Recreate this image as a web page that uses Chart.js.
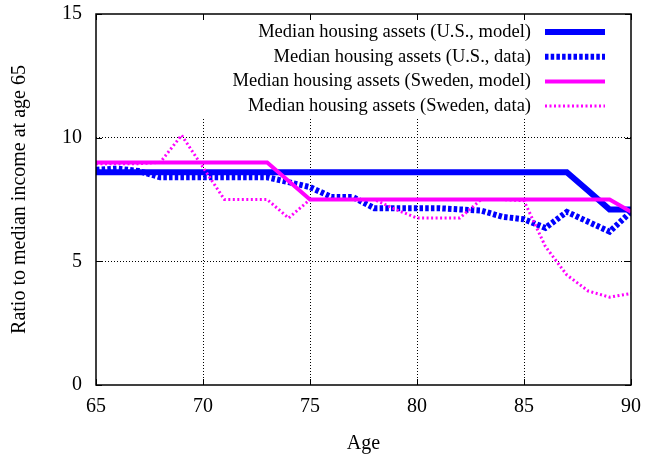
<!DOCTYPE html>
<html>
<head>
  <title>Median housing assets</title>
  <script src="https://cdn.jsdelivr.net/npm/chart.js@4"></script>
  <style>
    body { margin: 0; background: #fff; }
    #wrap { width: 646px; height: 457px; }
  </style>
</head>
<body>
<div id="wrap"><canvas id="chart" width="646" height="457"></canvas></div>
<script>
// data
const ages = [65,66,67,68,69,70,71,72,73,74,75,76,77,78,79,80,81,82,83,84,85,86,87,88,89,90];
const usModel = [8.6,8.6,8.6,8.6,8.6,8.6,8.6,8.6,8.6,8.6,8.6,8.6,8.6,8.6,8.6,8.6,8.6,8.6,8.6,8.6,8.6,8.6,8.6,7.85,7.1,7.1];
const usData = [8.7,8.75,8.65,8.4,8.4,8.4,8.4,8.4,8.4,8.2,8.0,7.6,7.6,7.15,7.15,7.15,7.15,7.1,7.05,6.8,6.7,6.35,7.0,6.6,6.2,7.0];
const swModel = [9.0,9.0,9.0,9.0,9.0,9.0,9.0,9.0,9.0,8.25,7.5,7.5,7.5,7.5,7.5,7.5,7.5,7.5,7.5,7.5,7.5,7.5,7.5,7.5,7.5,7.0];
const swData = [8.95,8.95,8.95,9.0,10.1,8.8,7.5,7.5,7.5,6.75,7.5,7.5,7.5,7.5,7.1,6.75,6.75,6.75,7.5,7.5,7.45,5.6,4.45,3.8,3.55,3.7];
const xTicks = [65,70,75,80,85,90];
const yTicks = [0,5,10,15];

const FONT = "'Liberation Serif', 'Times New Roman', serif";
const pts = arr => arr.map((v, i) => ({x: ages[i], y: v}));

const series = [
  { label: 'Median housing assets (U.S., model)', data: pts(usModel), borderColor: '#0000ff', borderWidth: 6, borderDash: [], order: 4 },
  { label: 'Median housing assets (U.S., data)', data: pts(usData), borderColor: '#0000ff', borderWidth: 6, borderDash: [3.5, 2.2], order: 3 },
  { label: 'Median housing assets (Sweden, model)', data: pts(swModel), borderColor: '#ff00ff', borderWidth: 4, borderDash: [], order: 2 },
  { label: 'Median housing assets (Sweden, data)', data: pts(swData), borderColor: '#ff00ff', borderWidth: 3, borderDash: [2, 2.5], order: 1 }
];

// gnuplot style: blank key area, frame with inward ticks, key in the upper right
const frame = {
  id: 'frame',
  beforeDatasetsDraw(chart) {
    const {ctx, chartArea: a} = chart;
    ctx.save();
    ctx.fillStyle = '#fff';
    ctx.fillRect(a.left + 1, a.top + 1, a.right - a.left - 2, 117 - a.top);
    ctx.restore();
  },
  afterDatasetsDraw(chart) {
    const {ctx, chartArea: a, scales} = chart;
    ctx.save();
    ctx.strokeStyle = '#000';
    ctx.lineWidth = 1;
    ctx.beginPath();
    xTicks.forEach(t => {
      const x = Math.round(scales.x.getPixelForValue(t)) + 0.5;
      ctx.moveTo(x, a.bottom); ctx.lineTo(x, a.bottom - 6);
      ctx.moveTo(x, a.top); ctx.lineTo(x, a.top + 6);
    });
    yTicks.forEach(t => {
      const y = Math.round(scales.y.getPixelForValue(t)) + 0.5;
      ctx.moveTo(a.left, y); ctx.lineTo(a.left + 6, y);
      ctx.moveTo(a.right, y); ctx.lineTo(a.right - 6, y);
    });
    ctx.stroke();
    ctx.lineWidth = 1.5;
    ctx.strokeRect(a.left, a.top, a.right - a.left, a.bottom - a.top);

    // key
    ctx.font = '18.5px ' + FONT;
    ctx.fillStyle = '#000';
    ctx.textAlign = 'right';
    ctx.textBaseline = 'middle';
    series.forEach((s, i) => {
      const y = 32 + i * 24.7;
      ctx.fillText(s.label, 531, y);
      ctx.beginPath();
      ctx.strokeStyle = s.borderColor;
      ctx.lineWidth = s.borderWidth;
      ctx.setLineDash(s.borderDash);
      ctx.moveTo(545, y); ctx.lineTo(605, y);
      ctx.stroke();
    });
    ctx.restore();
  }
};

new Chart(document.getElementById('chart').getContext('2d'), {
  type: 'line',
  data: {
    datasets: series.map(s => Object.assign({}, s, {
      fill: false, pointRadius: 0, tension: 0, borderCapStyle: 'butt'
    }))
  },
  options: {
    responsive: false,
    animation: false,
    layout: { padding: { left: 0, right: 15, top: 14, bottom: 0 } },
    plugins: { legend: { display: false }, tooltip: { enabled: false } },
    scales: {
      x: {
        type: 'linear', min: 65, max: 90,
        afterFit: s => { s.height = 72; s.paddingLeft = 0; s.paddingRight = 0; },
        afterBuildTicks: s => { s.ticks = xTicks.map(v => ({value: v})); },
        ticks: { color: '#000', font: { family: FONT, size: 20 }, padding: 10, maxRotation: 0 },
        grid: { drawTicks: false, color: c => (c.tick && (c.tick.value === 65 || c.tick.value === 90)) ? 'rgba(0,0,0,0)' : '#000', lineWidth: 1 },
        border: { display: false, dash: [1, 2] },
        title: { display: true, text: 'Age', color: '#000', font: { family: FONT, size: 20 }, padding: { top: 0, bottom: 1.5 } }
      },
      y: {
        type: 'linear', min: 0, max: 15,
        afterFit: s => { s.width = 96; s.paddingTop = 0; s.paddingBottom = 0; },
        afterBuildTicks: s => { s.ticks = yTicks.map(v => ({value: v})); },
        ticks: { color: '#000', font: { family: FONT, size: 20 }, padding: 14 },
        grid: { drawTicks: false, color: c => (c.tick && (c.tick.value === 0 || c.tick.value === 15)) ? 'rgba(0,0,0,0)' : '#000', lineWidth: 1 },
        border: { display: false, dash: [1, 2] },
        title: { display: true, text: 'Ratio to median income at age 65', color: '#000', font: { family: FONT, size: 20 }, padding: { top: 8, bottom: 0 } }
      }
    }
  },
  plugins: [frame]
});
</script>
</body>
</html>
